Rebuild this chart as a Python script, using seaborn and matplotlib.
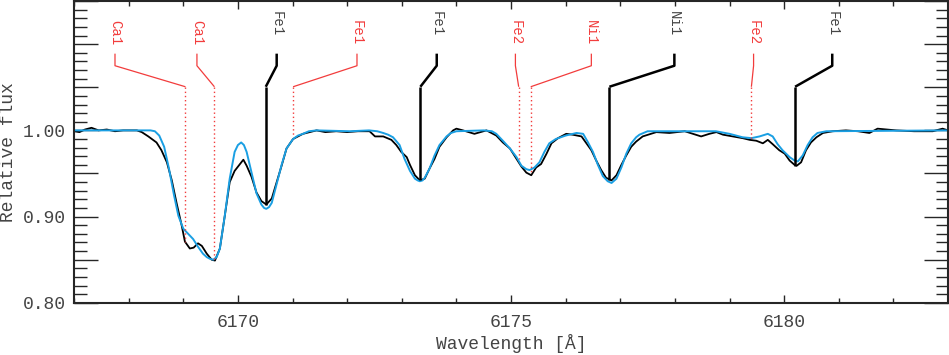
import matplotlib
matplotlib.use('Agg')
import numpy as np
import pandas as pd
import matplotlib.pyplot as plt
import seaborn as sns
from matplotlib.ticker import MultipleLocator, FuncFormatter

# observed spectrum (black)
obs_wave = [6167.00, 6167.10, 6167.20, 6167.32, 6167.45, 6167.60, 6167.75, 6167.90, 6168.05, 6168.15,
            6168.24, 6168.36, 6168.51, 6168.60, 6168.70, 6168.79, 6168.88, 6168.97, 6169.03, 6169.12,
            6169.19, 6169.27, 6169.34, 6169.43, 6169.52, 6169.58, 6169.67, 6169.76, 6169.85, 6169.94,
            6170.04, 6170.10, 6170.16, 6170.25, 6170.34, 6170.43, 6170.52, 6170.62, 6170.71, 6170.80,
            6170.89, 6171.01, 6171.19, 6171.44, 6171.60, 6171.80, 6172.00, 6172.20, 6172.41, 6172.51,
            6172.66, 6172.81, 6172.90, 6172.99, 6173.09, 6173.15, 6173.24, 6173.33, 6173.42, 6173.51,
            6173.60, 6173.69, 6173.82, 6173.94, 6174.00, 6174.12, 6174.33, 6174.55, 6174.73, 6174.85,
            6174.98, 6175.10, 6175.19, 6175.28, 6175.37, 6175.46, 6175.55, 6175.65, 6175.74, 6175.86,
            6176.01, 6176.13, 6176.29, 6176.38, 6176.47, 6176.56, 6176.65, 6176.74, 6176.84, 6176.93,
            6177.02, 6177.11, 6177.20, 6177.29, 6177.41, 6177.66, 6177.90, 6178.18, 6178.33, 6178.48,
            6178.63, 6178.76, 6178.88, 6179.06, 6179.24, 6179.37, 6179.49, 6179.61, 6179.70, 6179.79,
            6179.91, 6180.01, 6180.10, 6180.19, 6180.23, 6180.31, 6180.40, 6180.49, 6180.59, 6180.71,
            6180.89, 6181.13, 6181.35, 6181.56, 6181.71, 6182.05, 6182.38, 6182.72, 6182.90, 6183.00]
obs_flux = [0.999, 0.998, 1.001, 1.003, 1.000, 1.001, 0.999, 1.000, 1.000, 1.000,
            0.998, 0.993, 0.986, 0.977, 0.963, 0.942, 0.915, 0.890, 0.871, 0.863,
            0.864, 0.869, 0.866, 0.857, 0.850, 0.849, 0.863, 0.901, 0.940, 0.953,
            0.961, 0.966, 0.959, 0.946, 0.928, 0.918, 0.914, 0.921, 0.940, 0.959,
            0.979, 0.990, 0.996, 1.000, 0.998, 0.999, 0.998, 0.999, 0.999, 0.993,
            0.993, 0.989, 0.983, 0.975, 0.969, 0.960, 0.948, 0.942, 0.944, 0.956,
            0.967, 0.981, 0.992, 1.000, 1.002, 1.000, 0.996, 1.000, 0.994, 0.986,
            0.979, 0.967, 0.958, 0.951, 0.948, 0.957, 0.961, 0.973, 0.985, 0.991,
            0.996, 0.995, 0.993, 0.985, 0.977, 0.965, 0.954, 0.945, 0.942, 0.948,
            0.960, 0.971, 0.981, 0.987, 0.993, 0.998, 0.997, 0.999, 0.996, 0.993,
            0.996, 0.998, 0.995, 0.993, 0.991, 0.989, 0.988, 0.985, 0.989, 0.984,
            0.977, 0.973, 0.965, 0.960, 0.959, 0.963, 0.977, 0.986, 0.992, 0.997,
            0.999, 1.000, 0.999, 0.997, 1.002, 1.000, 0.999, 0.999, 1.002, 1.000]

# synthetic spectrum (blue)
model_wave = [6167.00, 6168.40, 6168.48, 6168.56, 6168.65, 6168.74, 6168.83, 6168.91, 6169.00, 6169.09,
              6169.18, 6169.27, 6169.36, 6169.43, 6169.49, 6169.55, 6169.61, 6169.67, 6169.76, 6169.85,
              6169.94, 6170.00, 6170.06, 6170.11, 6170.16, 6170.25, 6170.34, 6170.43, 6170.48, 6170.52,
              6170.57, 6170.62, 6170.71, 6170.80, 6170.89, 6171.01, 6171.10, 6171.19, 6171.30, 6171.44,
              6172.05, 6172.40, 6172.55, 6172.66, 6172.75, 6172.84, 6172.96, 6173.05, 6173.15, 6173.24,
              6173.29, 6173.33, 6173.38, 6173.42, 6173.51, 6173.60, 6173.69, 6173.82, 6173.90, 6174.00,
              6174.50, 6174.65, 6174.73, 6174.85, 6174.98, 6175.10, 6175.19, 6175.28, 6175.34, 6175.43,
              6175.52, 6175.61, 6175.70, 6175.82, 6176.00, 6176.20, 6176.32, 6176.41, 6176.50, 6176.59,
              6176.68, 6176.77, 6176.84, 6176.93, 6177.02, 6177.11, 6177.20, 6177.29, 6177.35, 6177.50,
              6178.75, 6179.00, 6179.24, 6179.40, 6179.55, 6179.70, 6179.79, 6179.88, 6179.97, 6180.10,
              6180.19, 6180.25, 6180.34, 6180.43, 6180.52, 6180.61, 6180.77, 6183.00]
model_flux = [1.000, 1.000, 0.999, 0.994, 0.981, 0.955, 0.925, 0.901, 0.886, 0.880,
              0.874, 0.865, 0.857, 0.853, 0.851, 0.850, 0.853, 0.863, 0.901, 0.944,
              0.975, 0.983, 0.986, 0.983, 0.975, 0.951, 0.927, 0.914, 0.910, 0.909,
              0.911, 0.916, 0.938, 0.960, 0.979, 0.990, 0.994, 0.996, 0.999, 1.000,
              0.999, 1.000, 0.999, 0.997, 0.995, 0.992, 0.983, 0.967, 0.953, 0.944,
              0.942, 0.941, 0.942, 0.945, 0.956, 0.971, 0.983, 0.993, 0.997, 0.999,
              1.000, 0.999, 0.996, 0.988, 0.979, 0.969, 0.959, 0.955, 0.954, 0.957,
              0.963, 0.975, 0.985, 0.990, 0.994, 0.997, 0.996, 0.986, 0.975, 0.960,
              0.947, 0.941, 0.939, 0.944, 0.957, 0.973, 0.985, 0.992, 0.995, 0.999,
              0.999, 0.996, 0.992, 0.991, 0.993, 0.996, 0.993, 0.984, 0.977, 0.969,
              0.965, 0.964, 0.971, 0.983, 0.992, 0.997, 0.999, 1.000]

# line identifications
line_names = ['Ca1', 'Ca1', 'Fe1', 'Fe1', 'Fe1', 'Fe2', 'Ni1', 'Ni1', 'Fe2', 'Fe1']
line_wave = [6169.04, 6169.57, 6170.51, 6171.01, 6173.34, 6175.14, 6175.36, 6176.80, 6179.40, 6180.20]
label_wave = [6167.75, 6169.25, 6170.71, 6172.18, 6173.64, 6175.08, 6176.47, 6177.99, 6179.44, 6180.88]
line_depth = [0.870, 0.850, 0.913, 0.992, 0.942, 0.967, 0.950, 0.942, 0.989, 0.959]
line_used = [False, False, True, False, True, False, False, True, False, True]

obs = pd.DataFrame({'wave': obs_wave, 'flux': obs_flux})
model = pd.DataFrame({'wave': model_wave, 'flux': model_flux})

sns.set_style('ticks')
plt.rcParams['font.family'] = ['Liberation Mono', 'DejaVu Sans']

RED = '#f23c3c'
BLUE = '#1a9fe3'
TXT = '#444444'

fig = plt.figure(figsize=(9.49, 3.55), dpi=100)
ax = fig.add_axes([0.078, 0.147, 0.921, 0.850])

sns.lineplot(data=obs, x='wave', y='flux', ax=ax, color='black', lw=1.3,
             estimator=None, sort=False)
sns.lineplot(data=model, x='wave', y='flux', ax=ax, color=BLUE, lw=1.4,
             estimator=None, sort=False)

# leader lines + labels
for name, lw_, lx, tip, used in zip(line_names, line_wave, label_wave, line_depth, line_used):
    col = 'black' if used else RED
    width = 1.8 if used else 0.9
    ax.plot([lx, lx, lw_], [1.089, 1.075, 1.0506], color=col, lw=width, solid_capstyle='butt')
    if used:
        ax.plot([lw_, lw_], [1.0506, tip], color=col, lw=width, solid_capstyle='butt')
        ax.text(lx, 1.139, name, rotation=270, ha='center', va='top',
                fontsize=10, color=TXT)
    else:
        ax.plot([lw_, lw_], [1.0506, tip], color=col, lw=1.0, ls=(0, (1, 2)))
        ax.text(lx, 1.128, name, rotation=270, ha='center', va='top',
                fontsize=10, color=RED)

ax.set_xlim(6167, 6183)
ax.set_ylim(0.80, 1.15)
ax.xaxis.set_major_locator(MultipleLocator(5))
ax.xaxis.set_minor_locator(MultipleLocator(1))
ax.yaxis.set_major_locator(MultipleLocator(0.05))
ax.yaxis.set_minor_locator(MultipleLocator(0.01))
ax.yaxis.set_major_formatter(FuncFormatter(
    lambda v, p: f'{v:.2f}' if int(round(v * 100)) in (80, 90, 100) else ''))

ax.tick_params(axis='x', which='major', direction='in', length=6, width=1,
               top=True, bottom=True, labelsize=13, labelcolor=TXT, pad=8)
ax.tick_params(axis='x', which='minor', direction='in', length=3.5, width=1,
               top=True, bottom=True)
ax.tick_params(axis='y', which='major', direction='in', length=17, width=1,
               left=True, right=True, labelsize=13, labelcolor=TXT, pad=6)
ax.tick_params(axis='y', which='minor', direction='in', length=9, width=1,
               left=True, right=True)
for s in ax.spines.values():
    s.set_linewidth(1.5)

ax.set_xlabel('Wavelength [Å]', fontsize=13, color=TXT, labelpad=2)
ax.set_ylabel('Relative flux', fontsize=13, color=TXT, labelpad=4)

fig.savefig('out.png', dpi=100)
